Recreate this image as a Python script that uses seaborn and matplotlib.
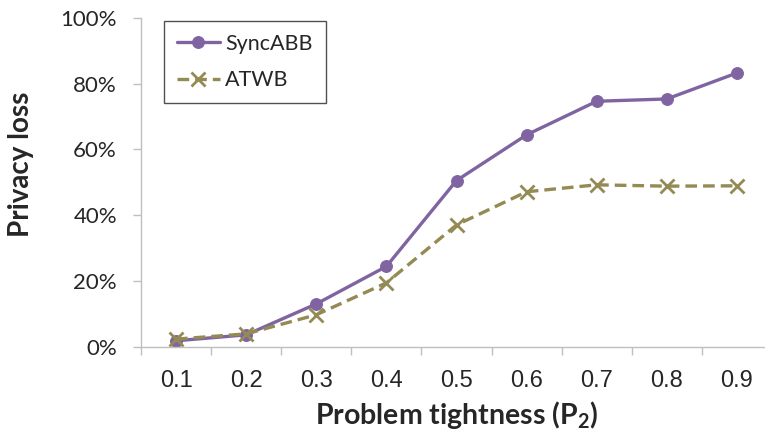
import matplotlib
matplotlib.use("Agg")
import matplotlib.pyplot as plt
import seaborn as sns
import pandas as pd
from matplotlib.ticker import FixedLocator, PercentFormatter

categories = ["0.1", "0.2", "0.3", "0.4", "0.5", "0.6", "0.7", "0.8", "0.9"]
syncabb = [1.8, 3.6, 13.0, 24.4, 50.5, 64.4, 74.6, 75.3, 83.2]
atwb = [2.3, 3.9, 9.7, 19.4, 37.0, 47.1, 49.2, 48.8, 48.9]
yticks = [0, 20, 40, 60, 80, 100]

sns.set_theme(style="white")
plt.rcParams["font.family"] = ["Lato", "DejaVu Sans"]

fig = plt.figure(figsize=(7.65, 4.37), dpi=100)
ax = fig.add_axes([141 / 765, (437 - 346.7) / 437, (772 - 141) / 765, 329 / 437])

pos = list(range(len(categories)))
df = pd.DataFrame({"pos": pos * 2,
                   "val": syncabb + atwb,
                   "series": ["SyncABB"] * 9 + ["ATWB"] * 9})

purple = "#8064A2"
olive = "#948A54"
sns.lineplot(data=df[df.series == "SyncABB"], x="pos", y="val", ax=ax,
             color=purple, lw=2.4, marker="o", markersize=8.5,
             markeredgecolor=purple, label="SyncABB")
sns.lineplot(data=df[df.series == "ATWB"], x="pos", y="val", ax=ax,
             color=olive, lw=2.4, marker="x", markersize=10,
             markeredgewidth=2.0, label="ATWB")
# fix style of the ATWB line (dashed, olive x markers)
atwb_line = ax.lines[1]
atwb_line.set_dashes((3.5, 1.8))
atwb_line.set_markeredgecolor(olive)
atwb_line.set_markerfacecolor(olive)

ax.set_xlim(-0.5, 8.5)
ax.set_ylim(0, 100)
ax.set_yticks(yticks)
ax.yaxis.set_major_formatter(PercentFormatter(decimals=0))
ax.set_xticks(pos)
ax.set_xticklabels(categories, fontfamily=["Liberation Sans", "DejaVu Sans"])
ax.xaxis.set_minor_locator(FixedLocator([p - 0.5 for p in pos] + [8.5]))

for s in ["top", "right"]:
    ax.spines[s].set_visible(False)
for s in ["left", "bottom"]:
    ax.spines[s].set_color("#BFBFBF")
    ax.spines[s].set_linewidth(1.0)

ax.tick_params(axis="y", which="major", left=True, length=5.8, width=1.0,
               color="#BFBFBF", pad=11.5, labelsize=16, labelcolor="#262626")
ax.tick_params(axis="x", which="major", bottom=False, length=0, pad=16.5,
               labelsize=17, labelcolor="#262626")
ax.tick_params(axis="x", which="minor", bottom=True, length=5.8, width=1.0,
               color="#BFBFBF")

ax.set_xlabel(r"Problem tightness (P$\mathregular{_2}$)", fontsize=20.5,
              fontweight="bold", color="#262626")
ax.set_ylabel("Privacy loss", fontsize=20, fontweight="bold", color="#262626")
ax.xaxis.set_label_coords(0.5, -0.208)
ax.xaxis.label.set_va("center")
ax.yaxis.set_label_coords(-0.19, 0.555)
ax.yaxis.label.set_va("center")

leg = ax.legend(loc="upper left", bbox_to_anchor=(0.0365, 0.99),
                borderaxespad=0, fontsize=15.5, frameon=True, fancybox=False,
                handlelength=2.0, handletextpad=0.25, labelspacing=0.75,
                borderpad=0.6)
leg.get_frame().set_edgecolor("#262626")
leg.get_frame().set_linewidth(1.0)
for t in leg.get_texts():
    t.set_color("#262626")
for h in leg.get_lines():
    if h.get_label() == "ATWB" or h.get_marker() == "x":
        h.set_dashes((3.5, 1.8))
        h.set_markeredgecolor(olive)
        h.set_markerfacecolor(olive)

fig.savefig("out.png", dpi=100)
